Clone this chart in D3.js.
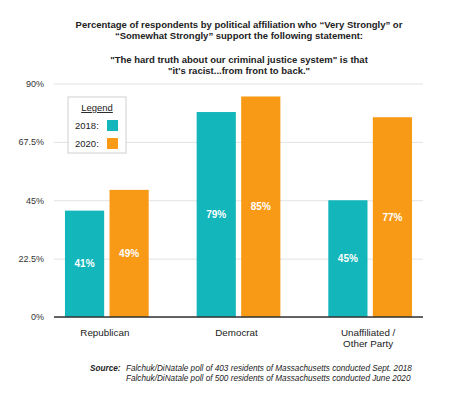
<html>
<head>
<meta charset="utf-8">
<title>Criminal justice statement support</title>
<style>
  body { margin: 0; background: #fff; }
  svg { font-family: "Liberation Sans", Arial, Helvetica, sans-serif; }
  .grid line { stroke: #e2e2e2; stroke-width: 1; }
  .title { font-weight: bold; font-size: 9.5px; fill: #222; }
  .tick text { font-size: 9px; fill: #333; }
</style>
<script src="https://cdn.jsdelivr.net/npm/d3@7"></script>
</head>
<body>
<svg id="chart" width="468" height="409"></svg>
<script>
var parties = ["Republican", "Democrat", "Unaffiliated / Other Party"];
var partyLines = [["Republican"], ["Democrat"], ["Unaffiliated /", "Other Party"]];
var years = ["2018", "2020"];
var values2018 = [41, 79, 45];
var values2020 = [49, 85, 77];
var yTicks = [0, 22.5, 45, 67.5, 90];
var yTickLabels = ["0%", "22.5%", "45%", "67.5%", "90%"];
var colors = ["#12b6bb", "#f99a17"];
var titleLines = [
  "Percentage of respondents by political affiliation who \u201cVery Strongly\u201d or",
  "\u201cSomewhat Strongly\u201d support the following statement:",
  "",
  "\"The hard truth about our criminal justice system\" is that",
  "\"it's racist...from front to back.\""
];
var sourceLines = [
  "Falchuk/DiNatale poll of 403 residents of Massachusetts conducted Sept. 2018",
  "Falchuk/DiNatale poll of 500 residents of Massachusetts conducted June 2020"
];

var svg = d3.select("#chart");
var gridLeft = 54, gridRight = 423;

var y = d3.scaleLinear().domain([0, 90]).range([317, 83.5]);
var x0 = d3.scaleBand().domain(parties).range([41, 436]).paddingInner(0.364).paddingOuter(0.182);
var x1 = d3.scaleBand().domain(years).range([0, x0.bandwidth()]).paddingInner(0.12);
var color = d3.scaleOrdinal().domain(years).range(colors);

// title
svg.append("g").selectAll("text").data(titleLines).enter().append("text")
  .attr("class", "title")
  .attr("x", 239)
  .attr("y", function(d, i) { return 27.5 + i * 11.7; })
  .attr("text-anchor", "middle")
  .text(function(d) { return d; });

// gridlines + y labels
var yAxis = d3.axisLeft(y).tickValues(yTicks)
  .tickSize(-(gridRight - gridLeft))
  .tickFormat(function(d, i) { return yTickLabels[i]; });
var ga = svg.append("g").attr("class", "grid")
  .attr("transform", "translate(" + gridLeft + ",0)")
  .call(yAxis);
ga.select(".domain").remove();
ga.selectAll(".tick text").attr("x", -10).attr("dy", "0.32em");

// bars
var rows = parties.map(function(p, i) {
  return { party: p, vals: [{ year: "2018", v: values2018[i] }, { year: "2020", v: values2020[i] }] };
});
var groups = svg.append("g").selectAll("g").data(rows).enter().append("g")
  .attr("transform", function(d) { return "translate(" + x0(d.party) + ",0)"; });
groups.selectAll("rect").data(function(d) { return d.vals; }).enter().append("rect")
  .attr("x", function(d) { return x1(d.year); })
  .attr("y", function(d) { return y(d.v); })
  .attr("width", x1.bandwidth())
  .attr("height", function(d) { return y(0) - y(d.v); })
  .attr("fill", function(d) { return color(d.year); });
groups.selectAll("text").data(function(d) { return d.vals; }).enter().append("text")
  .attr("x", function(d) { return x1(d.year) + x1.bandwidth() / 2; })
  .attr("y", function(d) { return (y(d.v) + y(0)) / 2; })
  .attr("dy", "0.35em")
  .attr("text-anchor", "middle")
  .attr("fill", "#fff")
  .attr("font-weight", "bold")
  .attr("font-size", "10px")
  .text(function(d) { return d.v + "%"; });

// baseline
svg.append("line")
  .attr("x1", gridLeft).attr("x2", gridRight)
  .attr("y1", y(0)).attr("y2", y(0))
  .attr("stroke", "#333").attr("stroke-width", 1.3);

// category labels
partyLines.forEach(function(lines, i) {
  svg.append("g").selectAll("text").data(lines).enter().append("text")
    .attr("x", x0(parties[i]) + x0.bandwidth() / 2 - 2)
    .attr("y", function(d, j) { return 336 + j * 11; })
    .attr("text-anchor", "middle")
    .attr("font-size", "9.8px")
    .attr("fill", "#222")
    .text(function(d) { return d; });
});

// legend
var lg = svg.append("g").attr("transform", "translate(68,97)");
lg.append("rect").attr("width", 58).attr("height", 56)
  .attr("fill", "#fff").attr("stroke", "#d0d0d0");
lg.append("text").attr("x", 29).attr("y", 14).attr("text-anchor", "middle")
  .attr("font-size", "9.5px").attr("fill", "#222")
  .attr("text-decoration", "underline").text("Legend");
var li = lg.selectAll("g.item").data(years).enter().append("g").attr("class", "item")
  .attr("transform", function(d, i) { return "translate(0," + (23 + i * 18) + ")"; });
li.append("text").attr("x", 7).attr("y", 9).attr("font-size", "9.5px").attr("fill", "#222")
  .text(function(d) { return d + ":"; });
li.append("rect").attr("x", 39).attr("y", 0).attr("width", 11).attr("height", 11)
  .attr("fill", function(d) { return color(d); });

// source
var src = svg.append("g").attr("font-size", "8.2px").attr("font-style", "italic").attr("fill", "#222");
src.append("text").attr("x", 90).attr("y", 370.5).attr("font-weight", "bold").text("Source:");
src.selectAll("text.line").data(sourceLines).enter().append("text").attr("class", "line")
  .attr("x", 126).attr("y", function(d, i) { return 370.5 + i * 10.5; })
  .text(function(d) { return d; });
</script>
</body>
</html>
